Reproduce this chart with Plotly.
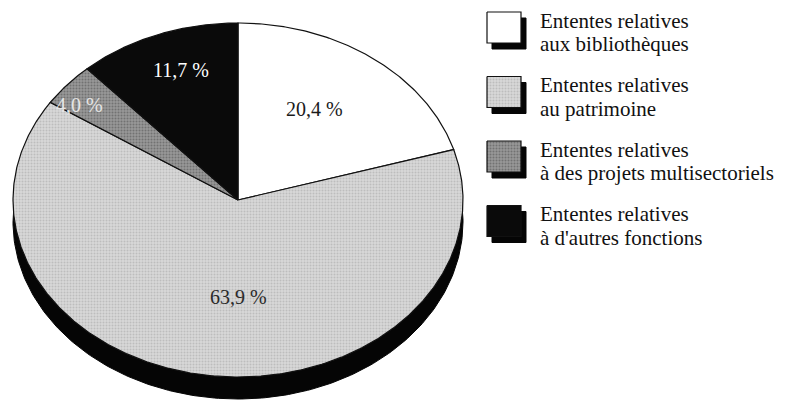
import numpy as np
import plotly.graph_objects as go

# Shares of agreements by type (percent)
categories = [
    "Ententes relatives<br>aux bibliothèques",
    "Ententes relatives<br>au patrimoine",
    "Ententes relatives<br>à des projets multisectoriels",
    "Ententes relatives<br>à d'autres fonctions",
]
shares = [20.4, 63.9, 4.0, 11.7]

# Styling per slice
fill_colors = ["#ffffff", "#d9d9d9", "#989898", "#0a0a0a"]
dot_colors = ["#ffffff", "#bdbdbd", "#727272", "#0a0a0a"]
label_colors = ["#1a1a1a", "#2a2a2a", "#e6e6e6", "#ffffff"]
# label placement: distance as a fraction of the radius, and angular nudge from the slice middle
label_radius = [0.615, 0.548, 0.884, 0.78]
label_nudge = [-3.4, -8.5, -3.3, 2.0]

# Pie geometry in pixel-like axis units (y runs downward)
W, H = 793, 400
cx, cy = 238, 200
rx, ry = 225, 177
depth = 22
font_family = "Liberation Serif, Times New Roman, serif"


def xy(theta_deg, r=1.0, dy=0.0):
    t = np.radians(theta_deg)
    return cx + r * rx * np.sin(t), cy + dy - r * ry * np.cos(t)


def dotted(i):
    if i in (1, 2):
        return dict(shape=".", bgcolor=fill_colors[i], fgcolor=dot_colors[i],
                    size=3, solidity=0.35, fillmode="replace")
    return None


fig = go.Figure()

# Extruded side of the pie: a dark ellipse shifted downward
full = np.linspace(0, 360, 361)
sx, sy = xy(full, dy=depth)
fig.add_trace(go.Scatter(x=sx, y=sy, fill="toself", mode="lines",
                         fillcolor="#050505", line=dict(color="#050505", width=1),
                         hoverinfo="skip", showlegend=False))

total = sum(shares)
start = 0.0
annotations = []
for i, (cat, v) in enumerate(zip(categories, shares)):
    span = v / total * 360.0
    arc = np.linspace(start, start + span, max(int(span * 2), 4))
    ax_, ay_ = xy(arc)
    px = np.concatenate([[cx], ax_, [cx]])
    py = np.concatenate([[cy], ay_, [cy]])
    fig.add_trace(go.Scatter(x=px, y=py, fill="toself", mode="lines",
                             fillcolor=fill_colors[i], fillpattern=dotted(i),
                             line=dict(color="#111111", width=1.2),
                             name=cat.replace("<br>", " "), hoverinfo="name",
                             showlegend=False))
    lx, ly = xy(start + span / 2 + label_nudge[i], r=label_radius[i])
    annotations.append(dict(x=float(lx), y=float(ly), xref="x", yref="y",
                            text=f"{v:.1f}".replace(".", ",") + " %",
                            showarrow=False,
                            font=dict(family=font_family, size=20, color=label_colors[i])))
    start += span

# Legend: shadowed square swatches with two-line captions
box_x, box_w, box_h = 487, 34, 31
shadow_dx, shadow_dy = 5, 6
first_top, step = 12, 64.5
line_offsets = [8.5, 32]
for i, cat in enumerate(categories):
    top = first_top + i * step
    bx = [box_x + shadow_dx, box_x + box_w + shadow_dx, box_x + box_w + shadow_dx,
          box_x + shadow_dx, box_x + shadow_dx]
    by = [top + shadow_dy, top + shadow_dy, top + box_h + shadow_dy,
          top + box_h + shadow_dy, top + shadow_dy]
    fig.add_trace(go.Scatter(x=bx, y=by, fill="toself", mode="lines",
                             fillcolor="#050505", line=dict(color="#050505", width=1),
                             hoverinfo="skip", showlegend=False))
    bx = [box_x, box_x + box_w, box_x + box_w, box_x, box_x]
    by = [top, top, top + box_h, top + box_h, top]
    fig.add_trace(go.Scatter(x=bx, y=by, fill="toself", mode="lines",
                             fillcolor=fill_colors[i], fillpattern=dotted(i),
                             line=dict(color="#111111", width=1.2),
                             hoverinfo="skip", showlegend=False))
    for line, off in zip(cat.split("<br>"), line_offsets):
        annotations.append(dict(x=538, y=top + off, xref="x", yref="y",
                                xanchor="left", yanchor="middle", align="left",
                                text=line, showarrow=False,
                                font=dict(family=font_family, size=21, color="#111111")))

fig.update_layout(
    width=W, height=H,
    margin=dict(l=0, r=0, t=0, b=0),
    paper_bgcolor="#ffffff", plot_bgcolor="#ffffff",
    xaxis=dict(range=[0, W], visible=False, fixedrange=True),
    yaxis=dict(range=[H, 0], visible=False, fixedrange=True),
    annotations=annotations,
    showlegend=False,
)

fig.write_html("out.html")
